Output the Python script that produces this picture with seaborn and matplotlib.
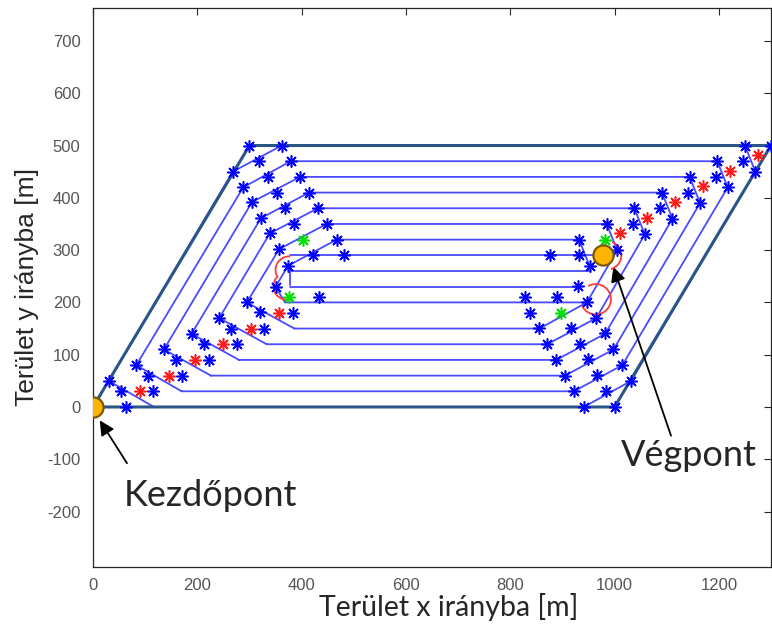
import matplotlib
matplotlib.use("Agg")
import matplotlib.pyplot as plt
from matplotlib.patches import Arc
import seaborn as sns
import pandas as pd

# ---------------- data (metres) ----------------
# field outline
field_x = [0, 1000, 1300, 300, 0]
field_y = [0, 0, 500, 500, 0]

# spiral passes, outermost first: key points of each chamfered round
bot_y       = [0, 30, 60, 90, 120, 150]
bot_start_x = [117, 170, 226, 280, 333, 386]
lr_pre_x    = [941, 922, 905, 888, 871, 856]
lr_post_x   = [1032, 1015, 998, 982, 965, 947]
lr_post_y   = [50, 80, 110, 140, 170, 200]
ur_e_x      = [1270, 1217, 1164, 1111, 1058, 1005]
ur_e_y      = [450, 420, 390, 360, 330, 300]
ur_a_x      = [1250, 1197, 1144, 1091, 1038, 985]
top_y       = [500, 470, 440, 410, 380, 350]
ul_t_x      = [362, 379, 397, 414, 431, 448]
ul_q_x      = [268, 288, 305, 322, 339, 357]
ul_q_y      = [450, 420, 392, 361, 332, 302]
ll_p_x      = [30, 83, 136, 189, 242, 295]
ll_p_y      = [50, 80, 110, 140, 170, 200]

# innermost round and the straight passes in the middle
core_x = [952, 932, 467, 374, 350, 368, 947]
core_y = [270, 320, 320, 270, 230, 200, 200]
mid_y  = [290, 260, 230]
mid_x0 = [378, 378, 378]
mid_x1 = [978, 952, 930]
link_x = [378, 378]
link_y = [233, 271]

# turning points
blue_x = [30, 83, 136, 189, 242, 295, 350,
          53, 106, 159, 212, 265, 320,
          63, 116, 170, 222, 276, 327, 383,
          300, 318, 335, 352, 369, 386, 421,
          362, 379, 397, 414, 431, 448, 467, 482,
          268, 288, 305, 322, 339, 357, 374,
          941, 922, 905, 888, 871, 856, 838,
          1000, 983, 966, 950, 933, 916,
          1032, 1015, 998, 982, 965, 947, 930,
          1250, 1197, 1144, 1091, 1038, 985, 932,
          1300, 1247, 1194, 1141, 1088, 1035,
          1270, 1217, 1164, 1111, 1058, 1005, 952,
          433, 828, 889, 877, 932]
blue_y = [50, 80, 110, 140, 170, 200, 230,
          30, 60, 90, 120, 150, 181,
          0, 30, 60, 90, 120, 150, 180,
          500, 470, 440, 410, 380, 350, 290,
          500, 470, 440, 410, 380, 350, 320, 290,
          450, 420, 392, 361, 332, 302, 270,
          0, 30, 60, 90, 120, 151, 180,
          0, 30, 61, 92, 121, 151,
          50, 81, 111, 141, 170, 201, 232,
          500, 470, 440, 410, 380, 350, 320,
          500, 470, 440, 410, 380, 350,
          450, 420, 390, 360, 330, 300, 270,
          211, 211, 211, 290, 290]
red_x = [90, 145, 196, 250, 302, 357, 1275, 1222, 1169, 1116, 1063, 1010]
red_y = [30, 60, 90, 120, 150, 180, 482, 452, 422, 392, 362, 332]
green_x = [403, 375, 982, 898]
green_y = [320, 211, 320, 180]

# turning circles: centre x, centre y, radius, start angle, end angle
circ_x  = [376, 372, 964, 986]
circ_y  = [262, 231, 206, 290]
circ_r  = [26, 26, 29, 27]
circ_t1 = [85, 140, 205, -75]
circ_t2 = [215, 290, 480, 70]

start_pt = (0, 0)
end_pt = (978, 290)

# ---------------- assemble path segments ----------------
rows = []
seg = 0
for i in range(len(bot_y)):
    pts = [(bot_start_x[i], bot_y[i]), (lr_pre_x[i], bot_y[i]),
           (lr_post_x[i], lr_post_y[i]), (ur_e_x[i], ur_e_y[i]),
           (ur_a_x[i], top_y[i]), (ul_t_x[i], top_y[i]),
           (ul_q_x[i], ul_q_y[i]), (ll_p_x[i], ll_p_y[i]),
           (bot_start_x[i], bot_y[i])]
    for k, (x, y) in enumerate(pts):
        rows.append(dict(x=x, y=y, seg=seg, order=k))
    seg += 1
for k, (x, y) in enumerate(zip(core_x, core_y)):
    rows.append(dict(x=x, y=y, seg=seg, order=k))
seg += 1
for y, x0, x1 in zip(mid_y, mid_x0, mid_x1):
    rows.append(dict(x=x0, y=y, seg=seg, order=0))
    rows.append(dict(x=x1, y=y, seg=seg, order=1))
    seg += 1
for k, (x, y) in enumerate(zip(link_x, link_y)):
    rows.append(dict(x=x, y=y, seg=seg, order=k))
path_df = pd.DataFrame(rows)

field_df = pd.DataFrame(dict(x=field_x, y=field_y, order=range(len(field_x))))

# ---------------- figure ----------------
sns.set_theme(style="white")
plt.rcParams['font.family'] = ['Liberation Sans', 'DejaVu Sans']
plt.rcParams['axes.unicode_minus'] = False

fig = plt.figure(figsize=(7.72, 6.25), dpi=100)
ax = fig.add_axes([93 / 772, 58 / 625, 678 / 772, 559 / 625])

sns.lineplot(data=path_df, x="x", y="y", units="seg", estimator=None, sort=False,
             color="#4a4aff", lw=1.3, ax=ax, zorder=2)
sns.lineplot(data=field_df, x="x", y="y", estimator=None, sort=False,
             color="#2b5487", lw=2.2, ax=ax, zorder=3)

for cx, cy, r, t1, t2 in zip(circ_x, circ_y, circ_r, circ_t1, circ_t2):
    ax.add_patch(Arc((cx, cy), 2 * r, 2 * r, theta1=t1, theta2=t2,
                     color="#ff3a3a", lw=1.3, zorder=4))

star = (8, 2, 0)
sns.scatterplot(x=blue_x, y=blue_y, marker=star, s=68, color="#0000ff",
                linewidth=1.15, ax=ax, zorder=5)
sns.scatterplot(x=red_x, y=red_y, marker=star, s=68, color="#ff1a1a",
                linewidth=1.15, ax=ax, zorder=5)
sns.scatterplot(x=green_x, y=green_y, marker=star, s=68, color="#00e000",
                linewidth=1.15, ax=ax, zorder=5)

sns.scatterplot(x=[start_pt[0], end_pt[0]], y=[start_pt[1], end_pt[1]], s=210,
                color="#ffb400", edgecolor="#7a5a00", linewidth=1.6, ax=ax, zorder=6)

ax.set_xlim(0, 1300)
ax.set_ylim(-306, 763)
ax.set_xticks(range(0, 1201, 200))
ax.set_yticks(range(-200, 701, 100))
ax.tick_params(direction="in", length=5, width=0.8, top=True, right=True,
               colors="#262626", labelcolor="#555555", labelsize=12, pad=9)
ax.tick_params(axis="x", pad=8)
for sp in ax.spines.values():
    sp.set_color("#262626")
    sp.set_linewidth(0.9)

ax.set_xlabel("Terület x irányba [m]", fontsize=20.5, family="Lato")
ax.xaxis.set_label_coords(0.524, -0.047)
ax.set_ylabel("Terület y irányba [m]", fontsize=19)
ax.yaxis.set_label_coords(-0.079, 0.5)

arrow = dict(arrowstyle="-|>", color="black", lw=1.3, mutation_scale=22)
ax.text(225, -170, "Kezdőpont", fontsize=26, family="Lato",
        ha="center", va="center", zorder=7)
ax.annotate("", xy=(10, -21), xytext=(68, -112), arrowprops=arrow)
ax.text(1142, -92, "Végpont", fontsize=26, family="Lato",
        ha="center", va="center", zorder=7)
ax.annotate("", xy=(996, 273), xytext=(1110, -60), arrowprops=arrow)

fig.savefig("out.png", dpi=100)
